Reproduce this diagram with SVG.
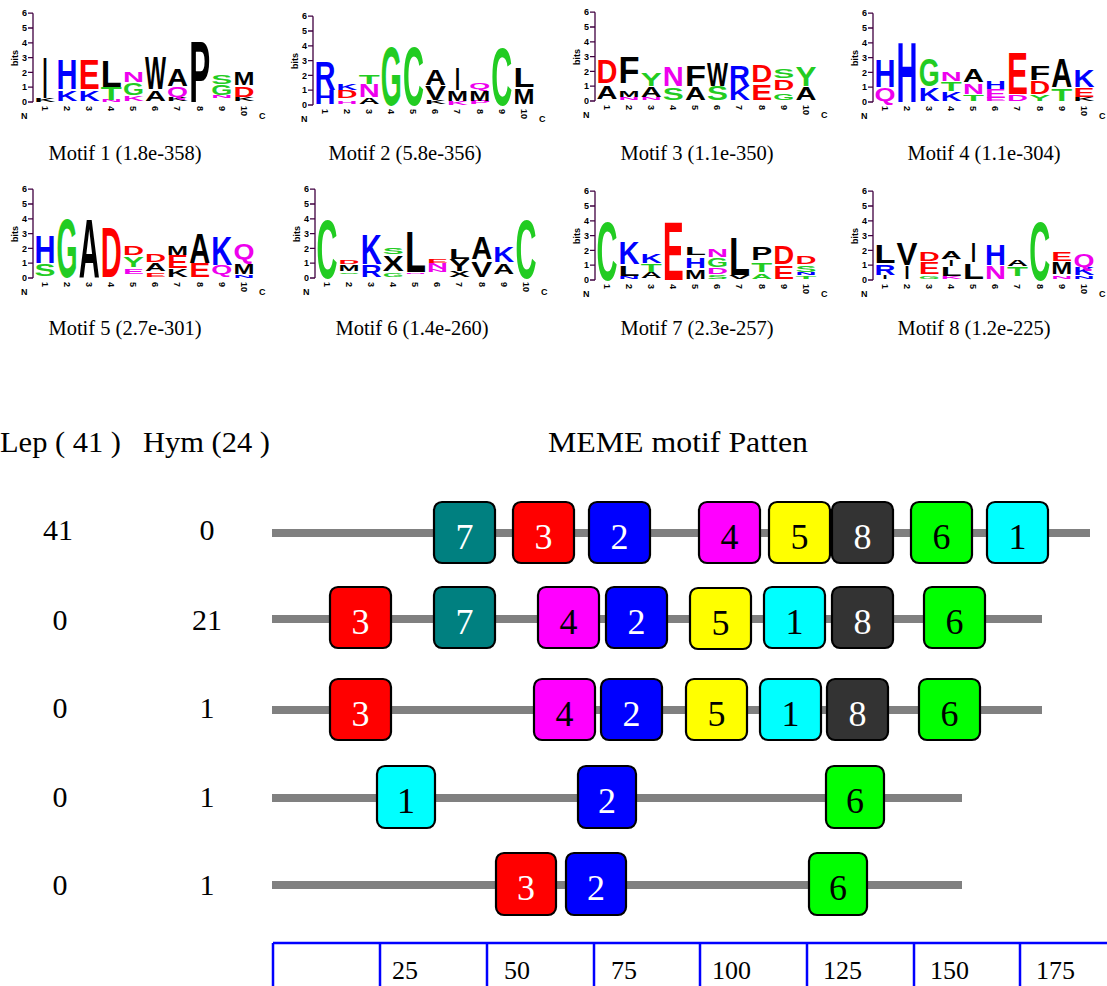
<svg xmlns="http://www.w3.org/2000/svg" width="1107" height="986" viewBox="0 0 1107 986">
<style>
  .L { font-family: "Liberation Sans", Arial, sans-serif; font-weight: bold; font-size: 20.67px; }
  .b { fill: #0000ff; } .r { fill: #ff0000; } .g { fill: #22cc22; } .k { fill: #000; } .m { fill: #ee00ee; }
  .ax { stroke: #400040; stroke-width: 1.3; fill: none; }
  .tk { font-family: "Liberation Sans", Arial, sans-serif; font-weight: bold; font-size: 9px; fill: #000; }
  .cap { font-family: "Liberation Serif", "Times New Roman", serif; font-size: 20.5px; fill: #000; text-anchor: middle; }
  .hd { font-family: "Liberation Serif", "Times New Roman", serif; font-size: 30px; fill: #000; }
  .cnt { font-family: "Liberation Serif", "Times New Roman", serif; font-size: 30px; fill: #000; text-anchor: middle; }
  .bb { stroke: #808080; stroke-width: 8; }
  .box { stroke: #000; stroke-width: 2.2; }
  .num { font-family: "Liberation Serif", "Times New Roman", serif; font-size: 36px; text-anchor: middle; }
  .w { fill: #fff; } .d { fill: #000; }
  .c1 { fill: #00ffff; } .c2 { fill: #0000ff; } .c3 { fill: #ff0000; } .c4 { fill: #ff00ff; }
  .c5 { fill: #ffff00; } .c6 { fill: #00ff00; } .c7 { fill: #008080; } .c8 { fill: #333333; }
  .sc { stroke: #0000ff; stroke-width: 2.5; }
  .sl { font-family: "Liberation Serif", "Times New Roman", serif; font-size: 26px; fill: #000; }
</style>
<defs>
  <!-- shared logo frame: y axis 0..6 bits (14.8 px per bit), N/C ends, column numbers -->
  <g id="frame">
    <path class="ax" d="M0,0 V-88.8 M-5,0 H0 M-5,-14.8 H0 M-5,-29.6 H0 M-5,-44.4 H0 M-5,-59.2 H0 M-5,-74 H0 M-5,-88.8 H0"/>
    <g class="tk" text-anchor="end">
      <text x="-6" y="3.2">0</text><text x="-6" y="-11.6">1</text><text x="-6" y="-26.4">2</text>
      <text x="-6" y="-41.2">3</text><text x="-6" y="-56">4</text><text x="-6" y="-70.8">5</text><text x="-6" y="-85.6">6</text>
    </g>
    <text class="tk" text-anchor="middle" transform="translate(-15,-44) rotate(-90)">bits</text>
    <text class="tk" x="-12" y="17">N</text>
    <text class="tk" x="226" y="17">C</text>
    <g class="tk">
      <text transform="translate(8.8,4) rotate(90)">1</text>
      <text transform="translate(30.9,4) rotate(90)">2</text>
      <text transform="translate(53,4) rotate(90)">3</text>
      <text transform="translate(75.1,4) rotate(90)">4</text>
      <text transform="translate(97.2,4) rotate(90)">5</text>
      <text transform="translate(119.3,4) rotate(90)">6</text>
      <text transform="translate(141.4,4) rotate(90)">7</text>
      <text transform="translate(163.5,4) rotate(90)">8</text>
      <text transform="translate(185.6,4) rotate(90)">9</text>
      <text transform="translate(207.7,4) rotate(90)">10</text>
    </g>
  </g>
</defs>

<!-- Motif 1 -->
<g id="motif-1">
  <g transform="translate(33,102)">
    <use href="#frame"/>
    <g class="L">
      <text class="k" transform="translate(1.5,-0.3) scale(1,0.23)" textLength="21" lengthAdjust="spacingAndGlyphs">K</text>
      <text class="k" transform="translate(9.5,-3.7) scale(1,2.8)" textLength="5" lengthAdjust="spacingAndGlyphs">I</text>
      <text class="b" transform="translate(23.6,-1.5) scale(1,0.75)" textLength="21" lengthAdjust="spacingAndGlyphs">K</text>
      <text class="b" transform="translate(23.6,-12.6) scale(1,2.05)" textLength="21" lengthAdjust="spacingAndGlyphs">H</text>
      <text class="b" transform="translate(45.7,-1.5) scale(1,0.75)" textLength="21" lengthAdjust="spacingAndGlyphs">K</text>
      <text class="r" transform="translate(45.7,-12.6) scale(1,2.05)" textLength="21" lengthAdjust="spacingAndGlyphs">E</text>
      <text class="m" transform="translate(67.8,-0.3) scale(1,0.13)" textLength="21" lengthAdjust="spacingAndGlyphs">N</text>
      <text class="g" transform="translate(67.8,-2.2) scale(1,0.9)" textLength="21" lengthAdjust="spacingAndGlyphs">T</text>
      <text class="k" transform="translate(67.8,-15.5) scale(1,1.8)" textLength="21" lengthAdjust="spacingAndGlyphs">L</text>
      <text class="m" transform="translate(89.9,-1.5) scale(1,0.35)" textLength="21" lengthAdjust="spacingAndGlyphs">K</text>
      <text class="g" transform="translate(89.9,-7.4) scale(1,0.8)" textLength="21" lengthAdjust="spacingAndGlyphs">G</text>
      <text class="m" transform="translate(89.9,-20) scale(1,0.7)" textLength="21" lengthAdjust="spacingAndGlyphs">N</text>
      <text class="k" transform="translate(112,-1.5) scale(1,0.75)" textLength="21" lengthAdjust="spacingAndGlyphs">A</text>
      <text class="k" transform="translate(112,-12.6) scale(1,2.2)" textLength="21" lengthAdjust="spacingAndGlyphs">W</text>
      <text class="k" transform="translate(134.1,-0.7) scale(1,0.3)" textLength="21" lengthAdjust="spacingAndGlyphs">K</text>
      <text class="m" transform="translate(134.1,-5.2) scale(1,0.75)" textLength="21" lengthAdjust="spacingAndGlyphs">Q</text>
      <text class="k" transform="translate(134.1,-16.3) scale(1,1.15)" textLength="21" lengthAdjust="spacingAndGlyphs">A</text>
      <text class="k" transform="translate(156.2,0) scale(1,4.2)" textLength="21" lengthAdjust="spacingAndGlyphs">P</text>
      <text class="m" transform="translate(178.3,-4.4) scale(1,0.15)" textLength="21" lengthAdjust="spacingAndGlyphs">N</text>
      <text class="g" transform="translate(178.3,-6.7) scale(1,0.7)" textLength="21" lengthAdjust="spacingAndGlyphs">G</text>
      <text class="g" transform="translate(178.3,-17.8) scale(1,0.6)" textLength="21" lengthAdjust="spacingAndGlyphs">S</text>
      <text class="k" transform="translate(200.4,-0.7) scale(1,0.3)" textLength="21" lengthAdjust="spacingAndGlyphs">K</text>
      <text class="r" transform="translate(200.4,-5.2) scale(1,0.7)" textLength="21" lengthAdjust="spacingAndGlyphs">D</text>
      <text class="k" transform="translate(200.4,-17) scale(1,0.9)" textLength="21" lengthAdjust="spacingAndGlyphs">M</text>
    </g>
  </g>
  <text class="cap" x="125" y="160">Motif 1 (1.8e-358)</text>
</g>

<!-- Motif 2 -->
<g id="motif-2">
  <g transform="translate(313,105)">
    <use href="#frame"/>
    <g class="L">
      <text class="b" transform="translate(1.5,-0.7) scale(1,0.95)" textLength="21" lengthAdjust="spacingAndGlyphs">H</text>
      <text class="b" transform="translate(1.5,-14.8) scale(1,1.95)" textLength="21" lengthAdjust="spacingAndGlyphs">R</text>
      <text class="m" transform="translate(23.6,-1.5) scale(1,0.2)" textLength="21" lengthAdjust="spacingAndGlyphs">H</text>
      <text class="r" transform="translate(23.6,-6.7) scale(1,0.5)" textLength="21" lengthAdjust="spacingAndGlyphs">D</text>
      <text class="b" transform="translate(23.6,-15.5) scale(1,0.4)" textLength="21" lengthAdjust="spacingAndGlyphs">K</text>
      <text class="k" transform="translate(45.7,-1.5) scale(1,0.4)" textLength="21" lengthAdjust="spacingAndGlyphs">A</text>
      <text class="m" transform="translate(45.7,-8.1) scale(1,0.9)" textLength="21" lengthAdjust="spacingAndGlyphs">N</text>
      <text class="g" transform="translate(45.7,-21.5) scale(1,0.65)" textLength="21" lengthAdjust="spacingAndGlyphs">T</text>
      <text class="g" transform="translate(67.8,0) scale(1,4.0)" textLength="21" lengthAdjust="spacingAndGlyphs">G</text>
      <text class="g" transform="translate(89.9,0) scale(1,4.0)" textLength="21" lengthAdjust="spacingAndGlyphs">C</text>
      <text class="k" transform="translate(112,-0.7) scale(1,0.25)" textLength="21" lengthAdjust="spacingAndGlyphs">K</text>
      <text class="k" transform="translate(112,-5.2) scale(1,1.0)" textLength="21" lengthAdjust="spacingAndGlyphs">V</text>
      <text class="k" transform="translate(112,-20) scale(1,1.1)" textLength="21" lengthAdjust="spacingAndGlyphs">A</text>
      <text class="m" transform="translate(134.1,0) scale(1,0.25)" textLength="21" lengthAdjust="spacingAndGlyphs">K</text>
      <text class="k" transform="translate(134.1,-4.4) scale(1,0.75)" textLength="21" lengthAdjust="spacingAndGlyphs">M</text>
      <text class="k" transform="translate(142.1,-15.5) scale(1,1.5)" textLength="5" lengthAdjust="spacingAndGlyphs">I</text>
      <text class="m" transform="translate(156.2,-0.7) scale(1,0.25)" textLength="21" lengthAdjust="spacingAndGlyphs">P</text>
      <text class="k" transform="translate(156.2,-4.4) scale(1,0.75)" textLength="21" lengthAdjust="spacingAndGlyphs">M</text>
      <text class="m" transform="translate(156.2,-16.3) scale(1,0.4)" textLength="21" lengthAdjust="spacingAndGlyphs">Q</text>
      <text class="g" transform="translate(178.3,0) scale(1,3.95)" textLength="21" lengthAdjust="spacingAndGlyphs">C</text>
      <text class="k" transform="translate(200.4,-1.5) scale(1,1.05)" textLength="21" lengthAdjust="spacingAndGlyphs">M</text>
      <text class="k" transform="translate(200.4,-18.5) scale(1,1.3)" textLength="21" lengthAdjust="spacingAndGlyphs">L</text>
    </g>
  </g>
  <text class="cap" x="405" y="160">Motif 2 (5.8e-356)</text>
</g>

<!-- Motif 3 -->
<g id="motif-3">
  <g transform="translate(595,101)">
    <use href="#frame"/>
    <g class="L">
      <text class="k" transform="translate(1.5,-2.2) scale(1,0.9)" textLength="21" lengthAdjust="spacingAndGlyphs">A</text>
      <text class="r" transform="translate(1.5,-17.8) scale(1,1.6)" textLength="21" lengthAdjust="spacingAndGlyphs">D</text>
      <text class="m" transform="translate(23.6,-0.7) scale(1,0.15)" textLength="21" lengthAdjust="spacingAndGlyphs">N</text>
      <text class="k" transform="translate(23.6,-4.4) scale(1,0.45)" textLength="21" lengthAdjust="spacingAndGlyphs">M</text>
      <text class="k" transform="translate(23.6,-18.5) scale(1,1.8)" textLength="21" lengthAdjust="spacingAndGlyphs">F</text>
      <text class="m" transform="translate(45.7,-1.5) scale(1,0.2)" textLength="21" lengthAdjust="spacingAndGlyphs">N</text>
      <text class="k" transform="translate(45.7,-4.4) scale(1,0.7)" textLength="21" lengthAdjust="spacingAndGlyphs">A</text>
      <text class="g" transform="translate(45.7,-15.5) scale(1,0.9)" textLength="21" lengthAdjust="spacingAndGlyphs">Y</text>
      <text class="g" transform="translate(67.8,-1.5) scale(1,0.8)" textLength="21" lengthAdjust="spacingAndGlyphs">S</text>
      <text class="m" transform="translate(67.8,-15.5) scale(1,1.3)" textLength="21" lengthAdjust="spacingAndGlyphs">N</text>
      <text class="k" transform="translate(89.9,-1.5) scale(1,0.85)" textLength="21" lengthAdjust="spacingAndGlyphs">A</text>
      <text class="k" transform="translate(89.9,-15.5) scale(1,1.45)" textLength="21" lengthAdjust="spacingAndGlyphs">F</text>
      <text class="g" transform="translate(112,-0.7) scale(1,0.95)" textLength="21" lengthAdjust="spacingAndGlyphs">S</text>
      <text class="k" transform="translate(112,-15.5) scale(1,1.65)" textLength="21" lengthAdjust="spacingAndGlyphs">W</text>
      <text class="b" transform="translate(134.1,-0.7) scale(1,1.0)" textLength="21" lengthAdjust="spacingAndGlyphs">K</text>
      <text class="b" transform="translate(134.1,-15.5) scale(1,1.45)" textLength="21" lengthAdjust="spacingAndGlyphs">R</text>
      <text class="r" transform="translate(156.2,-1.5) scale(1,1.1)" textLength="21" lengthAdjust="spacingAndGlyphs">E</text>
      <text class="r" transform="translate(156.2,-19.2) scale(1,1.15)" textLength="21" lengthAdjust="spacingAndGlyphs">D</text>
      <text class="g" transform="translate(178.3,-1.5) scale(1,0.45)" textLength="21" lengthAdjust="spacingAndGlyphs">G</text>
      <text class="r" transform="translate(178.3,-11.1) scale(1,0.7)" textLength="21" lengthAdjust="spacingAndGlyphs">D</text>
      <text class="g" transform="translate(178.3,-22.9) scale(1,0.65)" textLength="21" lengthAdjust="spacingAndGlyphs">S</text>
      <text class="k" transform="translate(200.4,-0.7) scale(1,0.9)" textLength="21" lengthAdjust="spacingAndGlyphs">A</text>
      <text class="g" transform="translate(200.4,-15.5) scale(1,1.3)" textLength="21" lengthAdjust="spacingAndGlyphs">Y</text>
    </g>
  </g>
  <text class="cap" x="697" y="160">Motif 3 (1.1e-350)</text>
</g>

<!-- Motif 4 -->
<g id="motif-4">
  <g transform="translate(873,102)">
    <use href="#frame"/>
    <g class="L">
      <text class="m" transform="translate(1.5,-1.5) scale(1,0.85)" textLength="21" lengthAdjust="spacingAndGlyphs">Q</text>
      <text class="b" transform="translate(1.5,-14.8) scale(1,1.85)" textLength="21" lengthAdjust="spacingAndGlyphs">H</text>
      <text class="b" transform="translate(23.6,0) scale(1,4.1)" textLength="21" lengthAdjust="spacingAndGlyphs">H</text>
      <text class="b" transform="translate(45.7,-1.5) scale(1,0.9)" textLength="21" lengthAdjust="spacingAndGlyphs">K</text>
      <text class="g" transform="translate(45.7,-16.3) scale(1,1.85)" textLength="21" lengthAdjust="spacingAndGlyphs">G</text>
      <text class="b" transform="translate(67.8,-1.5) scale(1,0.6)" textLength="21" lengthAdjust="spacingAndGlyphs">K</text>
      <text class="g" transform="translate(67.8,-11.1) scale(1,0.65)" textLength="21" lengthAdjust="spacingAndGlyphs">T</text>
      <text class="m" transform="translate(67.8,-20.7) scale(1,0.65)" textLength="21" lengthAdjust="spacingAndGlyphs">N</text>
      <text class="g" transform="translate(89.9,-1.5) scale(1,0.4)" textLength="21" lengthAdjust="spacingAndGlyphs">T</text>
      <text class="m" transform="translate(89.9,-8.1) scale(1,0.75)" textLength="21" lengthAdjust="spacingAndGlyphs">N</text>
      <text class="k" transform="translate(89.9,-20) scale(1,0.85)" textLength="21" lengthAdjust="spacingAndGlyphs">A</text>
      <text class="m" transform="translate(112,-0.7) scale(1,0.25)" textLength="21" lengthAdjust="spacingAndGlyphs">E</text>
      <text class="m" transform="translate(112,-4.4) scale(1,0.6)" textLength="21" lengthAdjust="spacingAndGlyphs">E</text>
      <text class="b" transform="translate(112,-13.3) scale(1,0.55)" textLength="21" lengthAdjust="spacingAndGlyphs">H</text>
      <text class="m" transform="translate(134.1,-0.7) scale(1,0.45)" textLength="21" lengthAdjust="spacingAndGlyphs">D</text>
      <text class="r" transform="translate(134.1,-8.1) scale(1,2.85)" textLength="21" lengthAdjust="spacingAndGlyphs">E</text>
      <text class="g" transform="translate(156.2,-0.7) scale(1,0.45)" textLength="21" lengthAdjust="spacingAndGlyphs">Y</text>
      <text class="r" transform="translate(156.2,-8.1) scale(1,0.9)" textLength="21" lengthAdjust="spacingAndGlyphs">D</text>
      <text class="k" transform="translate(156.2,-22.2) scale(1,1.0)" textLength="21" lengthAdjust="spacingAndGlyphs">F</text>
      <text class="g" transform="translate(178.3,-1.5) scale(1,0.8)" textLength="21" lengthAdjust="spacingAndGlyphs">T</text>
      <text class="k" transform="translate(178.3,-14.8) scale(1,1.95)" textLength="21" lengthAdjust="spacingAndGlyphs">A</text>
      <text class="k" transform="translate(200.4,-0.7) scale(1,0.25)" textLength="21" lengthAdjust="spacingAndGlyphs">K</text>
      <text class="r" transform="translate(200.4,-5.2) scale(1,0.65)" textLength="21" lengthAdjust="spacingAndGlyphs">E</text>
      <text class="b" transform="translate(200.4,-14.8) scale(1,1.15)" textLength="21" lengthAdjust="spacingAndGlyphs">K</text>
    </g>
  </g>
  <text class="cap" x="984" y="160">Motif 4 (1.1e-304)</text>
</g>

<!-- Motif 5 -->
<g id="motif-5">
  <g transform="translate(33,278)">
    <use href="#frame"/>
    <g class="L">
      <text class="g" transform="translate(1.5,-2.2) scale(1,0.8)" textLength="21" lengthAdjust="spacingAndGlyphs">S</text>
      <text class="b" transform="translate(1.5,-15.5) scale(1,1.85)" textLength="21" lengthAdjust="spacingAndGlyphs">H</text>
      <text class="g" transform="translate(23.6,-0.7) scale(1,4.0)" textLength="21" lengthAdjust="spacingAndGlyphs">G</text>
      <text class="k" transform="translate(45.7,0) scale(1,4.05)" textLength="21" lengthAdjust="spacingAndGlyphs">A</text>
      <text class="r" transform="translate(67.8,-1.5) scale(1,3.4)" textLength="21" lengthAdjust="spacingAndGlyphs">D</text>
      <text class="m" transform="translate(89.9,-3.7) scale(1,0.35)" textLength="21" lengthAdjust="spacingAndGlyphs">E</text>
      <text class="g" transform="translate(89.9,-11.1) scale(1,0.75)" textLength="21" lengthAdjust="spacingAndGlyphs">Y</text>
      <text class="r" transform="translate(89.9,-22.9) scale(1,0.65)" textLength="21" lengthAdjust="spacingAndGlyphs">D</text>
      <text class="r" transform="translate(112,-0.7) scale(1,0.25)" textLength="21" lengthAdjust="spacingAndGlyphs">E</text>
      <text class="k" transform="translate(112,-7.4) scale(1,0.5)" textLength="21" lengthAdjust="spacingAndGlyphs">A</text>
      <text class="r" transform="translate(112,-16.3) scale(1,0.5)" textLength="21" lengthAdjust="spacingAndGlyphs">D</text>
      <text class="k" transform="translate(134.1,-0.7) scale(1,0.55)" textLength="21" lengthAdjust="spacingAndGlyphs">K</text>
      <text class="r" transform="translate(134.1,-9.6) scale(1,0.85)" textLength="21" lengthAdjust="spacingAndGlyphs">E</text>
      <text class="k" transform="translate(134.1,-22.9) scale(1,0.6)" textLength="21" lengthAdjust="spacingAndGlyphs">M</text>
      <text class="r" transform="translate(156.2,-0.7) scale(1,0.95)" textLength="21" lengthAdjust="spacingAndGlyphs">E</text>
      <text class="k" transform="translate(156.2,-14.8) scale(1,2.1)" textLength="21" lengthAdjust="spacingAndGlyphs">A</text>
      <text class="m" transform="translate(178.3,-3.7) scale(1,0.65)" textLength="21" lengthAdjust="spacingAndGlyphs">Q</text>
      <text class="b" transform="translate(178.3,-13.3) scale(1,2.0)" textLength="21" lengthAdjust="spacingAndGlyphs">K</text>
      <text class="b" transform="translate(200.4,0) scale(1,0.2)" textLength="21" lengthAdjust="spacingAndGlyphs">N</text>
      <text class="k" transform="translate(200.4,-4.4) scale(1,0.7)" textLength="21" lengthAdjust="spacingAndGlyphs">M</text>
      <text class="m" transform="translate(200.4,-19.2) scale(1,1.05)" textLength="21" lengthAdjust="spacingAndGlyphs">Q</text>
    </g>
  </g>
  <text class="cap" x="125" y="335">Motif 5 (2.7e-301)</text>
</g>

<!-- Motif 6 -->
<g id="motif-6">
  <g transform="translate(315,278)">
    <use href="#frame"/>
    <g class="L">
      <text class="g" transform="translate(1.5,0) scale(1,4.0)" textLength="21" lengthAdjust="spacingAndGlyphs">C</text>
      <text class="g" transform="translate(23.6,-4.4) scale(1,0.1)" textLength="21" lengthAdjust="spacingAndGlyphs">S</text>
      <text class="k" transform="translate(23.6,-6.7) scale(1,0.45)" textLength="21" lengthAdjust="spacingAndGlyphs">M</text>
      <text class="r" transform="translate(23.6,-14.1) scale(1,0.3)" textLength="21" lengthAdjust="spacingAndGlyphs">D</text>
      <text class="b" transform="translate(45.7,-0.7) scale(1,0.8)" textLength="21" lengthAdjust="spacingAndGlyphs">R</text>
      <text class="b" transform="translate(45.7,-14.1) scale(1,2.1)" textLength="21" lengthAdjust="spacingAndGlyphs">K</text>
      <text class="g" transform="translate(67.8,-0.7) scale(1,0.25)" textLength="21" lengthAdjust="spacingAndGlyphs">G</text>
      <text class="k" transform="translate(67.8,-6.7) scale(1,1.05)" textLength="21" lengthAdjust="spacingAndGlyphs">X</text>
      <text class="g" transform="translate(67.8,-24.4) scale(1,0.45)" textLength="21" lengthAdjust="spacingAndGlyphs">S</text>
      <text class="m" transform="translate(89.9,-4.4) scale(1,0.1)" textLength="21" lengthAdjust="spacingAndGlyphs">N</text>
      <text class="k" transform="translate(89.9,-5.9) scale(1,2.8)" textLength="21" lengthAdjust="spacingAndGlyphs">L</text>
      <text class="m" transform="translate(112,-5.9) scale(1,0.15)" textLength="21" lengthAdjust="spacingAndGlyphs">N</text>
      <text class="m" transform="translate(112,-8.9) scale(1,0.4)" textLength="21" lengthAdjust="spacingAndGlyphs">N</text>
      <text class="r" transform="translate(112,-15.5) scale(1,0.3)" textLength="21" lengthAdjust="spacingAndGlyphs">E</text>
      <text class="k" transform="translate(134.1,-0.7) scale(1,0.4)" textLength="21" lengthAdjust="spacingAndGlyphs">X</text>
      <text class="k" transform="translate(134.1,-6.7) scale(1,0.8)" textLength="21" lengthAdjust="spacingAndGlyphs">Y</text>
      <text class="k" transform="translate(134.1,-19.2) scale(1,0.7)" textLength="21" lengthAdjust="spacingAndGlyphs">L</text>
      <text class="k" transform="translate(156.2,-1.5) scale(1,1.1)" textLength="21" lengthAdjust="spacingAndGlyphs">V</text>
      <text class="k" transform="translate(156.2,-19.2) scale(1,1.55)" textLength="21" lengthAdjust="spacingAndGlyphs">A</text>
      <text class="k" transform="translate(178.3,-4.4) scale(1,0.7)" textLength="21" lengthAdjust="spacingAndGlyphs">A</text>
      <text class="b" transform="translate(178.3,-16.3) scale(1,1.05)" textLength="21" lengthAdjust="spacingAndGlyphs">K</text>
      <text class="g" transform="translate(200.4,0) scale(1,4.0)" textLength="21" lengthAdjust="spacingAndGlyphs">C</text>
    </g>
  </g>
  <text class="cap" x="412" y="335">Motif 6 (1.4e-260)</text>
</g>

<!-- Motif 7 -->
<g id="motif-7">
  <g transform="translate(595,280)">
    <use href="#frame"/>
    <g class="L">
      <text class="g" transform="translate(1.5,0) scale(1,4.0)" textLength="21" lengthAdjust="spacingAndGlyphs">C</text>
      <text class="b" transform="translate(23.6,-0.7) scale(1,0.15)" textLength="21" lengthAdjust="spacingAndGlyphs">N</text>
      <text class="k" transform="translate(23.6,-4.4) scale(1,0.7)" textLength="21" lengthAdjust="spacingAndGlyphs">L</text>
      <text class="b" transform="translate(23.6,-16.3) scale(1,1.5)" textLength="21" lengthAdjust="spacingAndGlyphs">K</text>
      <text class="k" transform="translate(45.7,-2.2) scale(1,0.4)" textLength="21" lengthAdjust="spacingAndGlyphs">A</text>
      <text class="g" transform="translate(45.7,-8.1) scale(1,0.5)" textLength="21" lengthAdjust="spacingAndGlyphs">T</text>
      <text class="b" transform="translate(45.7,-17) scale(1,0.6)" textLength="21" lengthAdjust="spacingAndGlyphs">K</text>
      <text class="r" transform="translate(67.8,0) scale(1,4.0)" textLength="21" lengthAdjust="spacingAndGlyphs">E</text>
      <text class="k" transform="translate(89.9,-0.7) scale(1,0.65)" textLength="21" lengthAdjust="spacingAndGlyphs">M</text>
      <text class="b" transform="translate(89.9,-11.8) scale(1,0.75)" textLength="21" lengthAdjust="spacingAndGlyphs">H</text>
      <text class="k" transform="translate(89.9,-25.2) scale(1,0.57)" textLength="21" lengthAdjust="spacingAndGlyphs">L</text>
      <text class="g" transform="translate(112,-0.7) scale(1,0.3)" textLength="21" lengthAdjust="spacingAndGlyphs">S</text>
      <text class="m" transform="translate(112,-5.9) scale(1,0.4)" textLength="21" lengthAdjust="spacingAndGlyphs">D</text>
      <text class="g" transform="translate(112,-12.6) scale(1,0.6)" textLength="21" lengthAdjust="spacingAndGlyphs">G</text>
      <text class="m" transform="translate(112,-22.9) scale(1,0.5)" textLength="21" lengthAdjust="spacingAndGlyphs">N</text>
      <text class="k" transform="translate(134.1,-0.7) scale(1,0.3)" textLength="21" lengthAdjust="spacingAndGlyphs">V</text>
      <text class="k" transform="translate(134.1,-5.2) scale(1,2.6)" textLength="21" lengthAdjust="spacingAndGlyphs">L</text>
      <text class="g" transform="translate(156.2,-1.5) scale(1,0.35)" textLength="21" lengthAdjust="spacingAndGlyphs">A</text>
      <text class="g" transform="translate(156.2,-8.1) scale(1,0.65)" textLength="21" lengthAdjust="spacingAndGlyphs">T</text>
      <text class="k" transform="translate(156.2,-20) scale(1,0.85)" textLength="21" lengthAdjust="spacingAndGlyphs">P</text>
      <text class="r" transform="translate(178.3,-1.5) scale(1,0.9)" textLength="21" lengthAdjust="spacingAndGlyphs">E</text>
      <text class="r" transform="translate(178.3,-16.3) scale(1,1.25)" textLength="21" lengthAdjust="spacingAndGlyphs">D</text>
      <text class="g" transform="translate(200.4,-1.5) scale(1,0.2)" textLength="21" lengthAdjust="spacingAndGlyphs">T</text>
      <text class="b" transform="translate(200.4,-5.2) scale(1,0.15)" textLength="21" lengthAdjust="spacingAndGlyphs">N</text>
      <text class="g" transform="translate(200.4,-8.1) scale(1,0.45)" textLength="21" lengthAdjust="spacingAndGlyphs">S</text>
      <text class="r" transform="translate(200.4,-16.3) scale(1,0.55)" textLength="21" lengthAdjust="spacingAndGlyphs">D</text>
    </g>
  </g>
  <text class="cap" x="697" y="335">Motif 7 (2.3e-257)</text>
</g>

<!-- Motif 8 -->
<g id="motif-8">
  <g transform="translate(873,280)">
    <use href="#frame"/>
    <g class="L">
      <text class="k" transform="translate(9.5,-0.7) scale(1,0.25)" textLength="5" lengthAdjust="spacingAndGlyphs">I</text>
      <text class="b" transform="translate(1.5,-5.2) scale(1,0.75)" textLength="21" lengthAdjust="spacingAndGlyphs">R</text>
      <text class="k" transform="translate(1.5,-17) scale(1,1.25)" textLength="21" lengthAdjust="spacingAndGlyphs">L</text>
      <text class="k" transform="translate(31.6,-0.7) scale(1,0.9)" textLength="5" lengthAdjust="spacingAndGlyphs">I</text>
      <text class="k" transform="translate(23.6,-15.5) scale(1,1.5)" textLength="21" lengthAdjust="spacingAndGlyphs">V</text>
      <text class="g" transform="translate(45.7,-1.5) scale(1,0.2)" textLength="21" lengthAdjust="spacingAndGlyphs">G</text>
      <text class="r" transform="translate(45.7,-5.9) scale(1,0.8)" textLength="21" lengthAdjust="spacingAndGlyphs">E</text>
      <text class="r" transform="translate(45.7,-19.2) scale(1,0.65)" textLength="21" lengthAdjust="spacingAndGlyphs">D</text>
      <text class="m" transform="translate(67.8,-1.5) scale(1,0.2)" textLength="21" lengthAdjust="spacingAndGlyphs">K</text>
      <text class="k" transform="translate(67.8,-4.4) scale(1,0.6)" textLength="21" lengthAdjust="spacingAndGlyphs">L</text>
      <text class="k" transform="translate(75.8,-14.1) scale(1,0.45)" textLength="5" lengthAdjust="spacingAndGlyphs">I</text>
      <text class="k" transform="translate(67.8,-20.7) scale(1,0.55)" textLength="21" lengthAdjust="spacingAndGlyphs">A</text>
      <text class="k" transform="translate(89.9,-1.5) scale(1,1.1)" textLength="21" lengthAdjust="spacingAndGlyphs">L</text>
      <text class="k" transform="translate(97.9,-18.5) scale(1,1.3)" textLength="5" lengthAdjust="spacingAndGlyphs">I</text>
      <text class="m" transform="translate(112,-1.5) scale(1,0.9)" textLength="21" lengthAdjust="spacingAndGlyphs">N</text>
      <text class="b" transform="translate(112,-15.5) scale(1,1.45)" textLength="21" lengthAdjust="spacingAndGlyphs">H</text>
      <text class="g" transform="translate(134.1,-3.7) scale(1,0.65)" textLength="21" lengthAdjust="spacingAndGlyphs">T</text>
      <text class="k" transform="translate(134.1,-14.1) scale(1,0.4)" textLength="21" lengthAdjust="spacingAndGlyphs">A</text>
      <text class="g" transform="translate(156.2,0) scale(1,4.0)" textLength="21" lengthAdjust="spacingAndGlyphs">C</text>
      <text class="m" transform="translate(178.3,-1.5) scale(1,0.2)" textLength="21" lengthAdjust="spacingAndGlyphs">N</text>
      <text class="k" transform="translate(178.3,-5.9) scale(1,0.8)" textLength="21" lengthAdjust="spacingAndGlyphs">M</text>
      <text class="r" transform="translate(178.3,-19.2) scale(1,0.65)" textLength="21" lengthAdjust="spacingAndGlyphs">E</text>
      <text class="b" transform="translate(200.4,-1.5) scale(1,0.15)" textLength="21" lengthAdjust="spacingAndGlyphs">N</text>
      <text class="b" transform="translate(200.4,-5.2) scale(1,0.5)" textLength="21" lengthAdjust="spacingAndGlyphs">K</text>
      <text class="m" transform="translate(200.4,-12.6) scale(1,0.85)" textLength="21" lengthAdjust="spacingAndGlyphs">Q</text>
    </g>
  </g>
  <text class="cap" x="974" y="335">Motif 8 (1.2e-225)</text>
</g>

<!-- column headers -->
<g id="headers">
  <text class="hd" x="0" y="452" textLength="121" lengthAdjust="spacingAndGlyphs">Lep ( 41 )</text>
  <text class="hd" x="143" y="452" textLength="127" lengthAdjust="spacingAndGlyphs">Hym (24 )</text>
  <text class="hd" x="548" y="452" textLength="260" lengthAdjust="spacingAndGlyphs">MEME motif Patten</text>
</g>

<!-- counts per pattern -->
<g id="counts">
  <text class="cnt" x="58" y="540">41</text><text class="cnt" x="207" y="540">0</text>
  <text class="cnt" x="60" y="630">0</text><text class="cnt" x="207" y="630">21</text>
  <text class="cnt" x="60" y="718">0</text><text class="cnt" x="207" y="718">1</text>
  <text class="cnt" x="60" y="807">0</text><text class="cnt" x="207" y="807">1</text>
  <text class="cnt" x="60" y="895">0</text><text class="cnt" x="207" y="895">1</text>
</g>

<!-- sequence backbones -->
<g id="connectors">
  <line class="bb" x1="272" y1="533" x2="1090" y2="533"/>
  <line class="bb" x1="272" y1="619" x2="1042" y2="619"/>
  <line class="bb" x1="272" y1="710" x2="1042" y2="710"/>
  <line class="bb" x1="272" y1="798" x2="962" y2="798"/>
  <line class="bb" x1="272" y1="885" x2="962" y2="885"/>
</g>

<!-- pattern 1 -->
<g id="p1-m7"><rect class="box c7" x="434" y="502" width="61" height="61" rx="8"/><text class="num w" x="464.5" y="549">7</text></g>
<g id="p1-m3"><rect class="box c3" x="513" y="502" width="61" height="61" rx="8"/><text class="num w" x="543.5" y="549">3</text></g>
<g id="p1-m2"><rect class="box c2" x="589" y="502" width="61" height="61" rx="8"/><text class="num w" x="619.5" y="549">2</text></g>
<g id="p1-m4"><rect class="box c4" x="699" y="502" width="61" height="61" rx="8"/><text class="num d" x="729.5" y="549">4</text></g>
<g id="p1-m5"><rect class="box c5" x="769" y="502" width="61" height="61" rx="8"/><text class="num d" x="799.5" y="549">5</text></g>
<g id="p1-m8"><rect class="box c8" x="832" y="502" width="61" height="61" rx="8"/><text class="num w" x="862.5" y="549">8</text></g>
<g id="p1-m6"><rect class="box c6" x="911" y="502" width="61" height="61" rx="8"/><text class="num d" x="941.5" y="549">6</text></g>
<g id="p1-m1"><rect class="box c1" x="987" y="502" width="61" height="61" rx="8"/><text class="num d" x="1017.5" y="549">1</text></g>

<!-- pattern 2 -->
<g id="p2-m3"><rect class="box c3" x="330" y="587" width="61" height="61" rx="8"/><text class="num w" x="360.5" y="634">3</text></g>
<g id="p2-m7"><rect class="box c7" x="434" y="587" width="61" height="61" rx="8"/><text class="num w" x="464.5" y="634">7</text></g>
<g id="p2-m4"><rect class="box c4" x="538" y="587" width="61" height="61" rx="8"/><text class="num d" x="568.5" y="634">4</text></g>
<g id="p2-m2"><rect class="box c2" x="606" y="587" width="61" height="61" rx="8"/><text class="num w" x="636.5" y="634">2</text></g>
<g id="p2-m5"><rect class="box c5" x="690" y="588" width="61" height="61" rx="8"/><text class="num d" x="720.5" y="635">5</text></g>
<g id="p2-m1"><rect class="box c1" x="764" y="587" width="61" height="61" rx="8"/><text class="num d" x="794.5" y="634">1</text></g>
<g id="p2-m8"><rect class="box c8" x="832" y="587" width="61" height="61" rx="8"/><text class="num w" x="862.5" y="634">8</text></g>
<g id="p2-m6"><rect class="box c6" x="924" y="587" width="61" height="61" rx="8"/><text class="num d" x="954.5" y="634">6</text></g>

<!-- pattern 3 -->
<g id="p3-m3"><rect class="box c3" x="330" y="679" width="61" height="61" rx="8"/><text class="num w" x="360.5" y="726">3</text></g>
<g id="p3-m4"><rect class="box c4" x="534" y="679" width="61" height="61" rx="8"/><text class="num d" x="564.5" y="726">4</text></g>
<g id="p3-m2"><rect class="box c2" x="601" y="679" width="61" height="61" rx="8"/><text class="num w" x="631.5" y="726">2</text></g>
<g id="p3-m5"><rect class="box c5" x="686" y="679" width="61" height="61" rx="8"/><text class="num d" x="716.5" y="726">5</text></g>
<g id="p3-m1"><rect class="box c1" x="760" y="679" width="61" height="61" rx="8"/><text class="num d" x="790.5" y="726">1</text></g>
<g id="p3-m8"><rect class="box c8" x="827" y="679" width="61" height="61" rx="8"/><text class="num w" x="857.5" y="726">8</text></g>
<g id="p3-m6"><rect class="box c6" x="919" y="679" width="61" height="61" rx="8"/><text class="num d" x="949.5" y="726">6</text></g>

<!-- pattern 4 -->
<g id="p4-m1"><rect class="box c1" x="377" y="766" width="58" height="62" rx="8"/><text class="num d" x="406" y="813">1</text></g>
<g id="p4-m2"><rect class="box c2" x="578" y="766" width="58" height="62" rx="8"/><text class="num w" x="607" y="813">2</text></g>
<g id="p4-m6"><rect class="box c6" x="826" y="766" width="58" height="62" rx="8"/><text class="num d" x="855" y="813">6</text></g>

<!-- pattern 5 -->
<g id="p5-m3"><rect class="box c3" x="496" y="853" width="60" height="62" rx="8"/><text class="num w" x="526" y="900">3</text></g>
<g id="p5-m2"><rect class="box c2" x="566" y="853" width="60" height="62" rx="8"/><text class="num w" x="596" y="900">2</text></g>
<g id="p5-m6"><rect class="box c6" x="809" y="853" width="58" height="62" rx="8"/><text class="num d" x="838" y="900">6</text></g>

<!-- position scale -->
<g id="scale">
  <path class="sc" fill="none" d="M273,943 H1107 M273,943 V986 M380,943 V986 M487,943 V986 M594,943 V986 M700,943 V986 M807,943 V986 M914,943 V986 M1020,943 V986"/>
  <text class="sl" x="392" y="979">25</text>
  <text class="sl" x="504" y="979">50</text>
  <text class="sl" x="611" y="979">75</text>
  <text class="sl" x="712" y="979">100</text>
  <text class="sl" x="823" y="979">125</text>
  <text class="sl" x="930" y="979">150</text>
  <text class="sl" x="1036" y="979">175</text>
</g>
</svg>
